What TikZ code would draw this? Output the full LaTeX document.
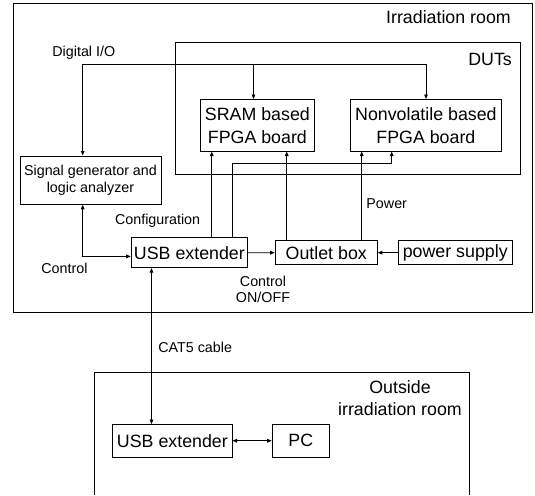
\documentclass[tikz,border=0pt]{standalone}
\usepackage{fontspec}
\setmainfont{Liberation Sans}
\usetikzlibrary{arrows.meta}

\tikzset{
  box/.style={draw, line width=0.8pt, inner sep=0pt, anchor=north west, align=center,
    font=\fontsize{17.8}{23}\selectfont},
  smallbox/.style={box, font=\fontsize{14.3}{17.3}\selectfont},
  lbl/.style={inner sep=0pt, align=center, font=\fontsize{14.3}{16.7}\selectfont},
  title/.style={inner sep=0pt, align=center, font=\fontsize{17.8}{22.6}\selectfont},
  wire/.style={line width=0.8pt},
  arr/.style={wire, -{Triangle[length=4.5pt,width=3.6pt]}},
  darr/.style={wire, {Triangle[length=4.5pt,width=3.6pt]}-{Triangle[length=4.5pt,width=3.6pt]}},
  frame/.style={line width=0.8pt}
}

\begin{document}
\begin{tikzpicture}[x=1pt,y=-1pt]
\useasboundingbox (0,0) rectangle (535,495);

% room frames
\draw[frame] (13,3) rectangle (532,312.3);
\draw[frame] (175.4,42.3) rectangle (520.7,174.3);
\draw[frame] (94,495) -- (94,372.5) -- (469.3,372.5) -- (469.3,495);

\node[title, anchor=east] (room) at (511,16.7) {Irradiation room};
\node[title, anchor=east] (duts) at (512,59) {DUTs};
\node[title] (outside) at (400,398) {Outside\\irradiation room};

% equipment
\node[box, minimum width=114pt, minimum height=51.7pt] (sram) at (200,99) {SRAM based\\FPGA board};
\node[box, minimum width=151pt, minimum height=51.7pt] (nv) at (350,99) {Nonvolatile based\\FPGA board};
\node[smallbox, minimum width=141.2pt, minimum height=48.5pt] (sig) at (19.5,155.5) {Signal generator and\\logic analyzer};
\node[box, minimum width=116.6pt, minimum height=30pt] (usb1) at (130.7,237.3) {USB extender};
\node[box, minimum width=102.3pt, minimum height=24.2pt] (outlet) at (274.7,240.2) {Outlet box};
\node[box, minimum width=113.7pt, minimum height=24.2pt] (psu) at (398,240.2) {power supply};
\node[box, minimum width=119.4pt, minimum height=32.7pt] (usb2) at (112.3,424) {USB extender};
\node[box, minimum width=57.3pt, minimum height=32.7pt] (pc) at (271.7,424) {PC};

% digital I/O bus
\coordinate (dioL) at (82.7,64.3);
\coordinate (dioS) at (253.5,64.3);
\coordinate (dioR) at (426,64.3);
\draw[wire] (dioL) -- (dioR);
\draw[arr] (dioL) -- (dioL |- sig.north);
\draw[arr] (dioS) -- (dioS |- sram.north);
\draw[arr] (dioR) -- (dioR |- nv.north);

% control between analyzer and USB extender
\draw[darr] (sig.south -| dioL) |- ([yshift=-3.7pt]usb1.west);

% configuration lines
\coordinate (cfgA) at (211.7,0);
\coordinate (cfgB) at (391.7,163.3);
\draw[arr] (usb1.north -| cfgA) -- (sram.south -| cfgA);
\draw[arr] (usb1.north -| 232.7,0) |- (cfgB) -- (cfgB |- nv.south);

% power lines
\coordinate (pwA) at (286.7,0);
\coordinate (pwB) at (361.7,0);
\draw[arr] (outlet.north -| pwA) -- (sram.south -| pwA);
\draw[arr] (outlet.north -| pwB) -- (nv.south -| pwB);

% outlet control and supply
\draw[arr] (usb1.east) -- (outlet.west);
\draw[arr] (psu.west) -- (outlet.east);

% CAT5 link and PC
\coordinate (cat) at (151.5,0);
\draw[darr] (usb1.south -| cat) -- (usb2.north -| cat);
\draw[darr] (usb2.east) -- (pc.west);

% labels
\node[lbl] (ldio) at (83.8,53.3) {Digital I/O};
\node[lbl] (lcfg) at (157.6,221) {Configuration};
\node[lbl] (lctl) at (64.4,268.3) {Control};
\node[lbl] (lonoff) at (263,289.3) {Control\\ON/OFF};
\node[lbl] (lpwr) at (386.7,203.3) {Power};
\node[lbl] (lcat) at (195.2,347.3) {CAT5 cable};
\end{tikzpicture}
\end{document}
